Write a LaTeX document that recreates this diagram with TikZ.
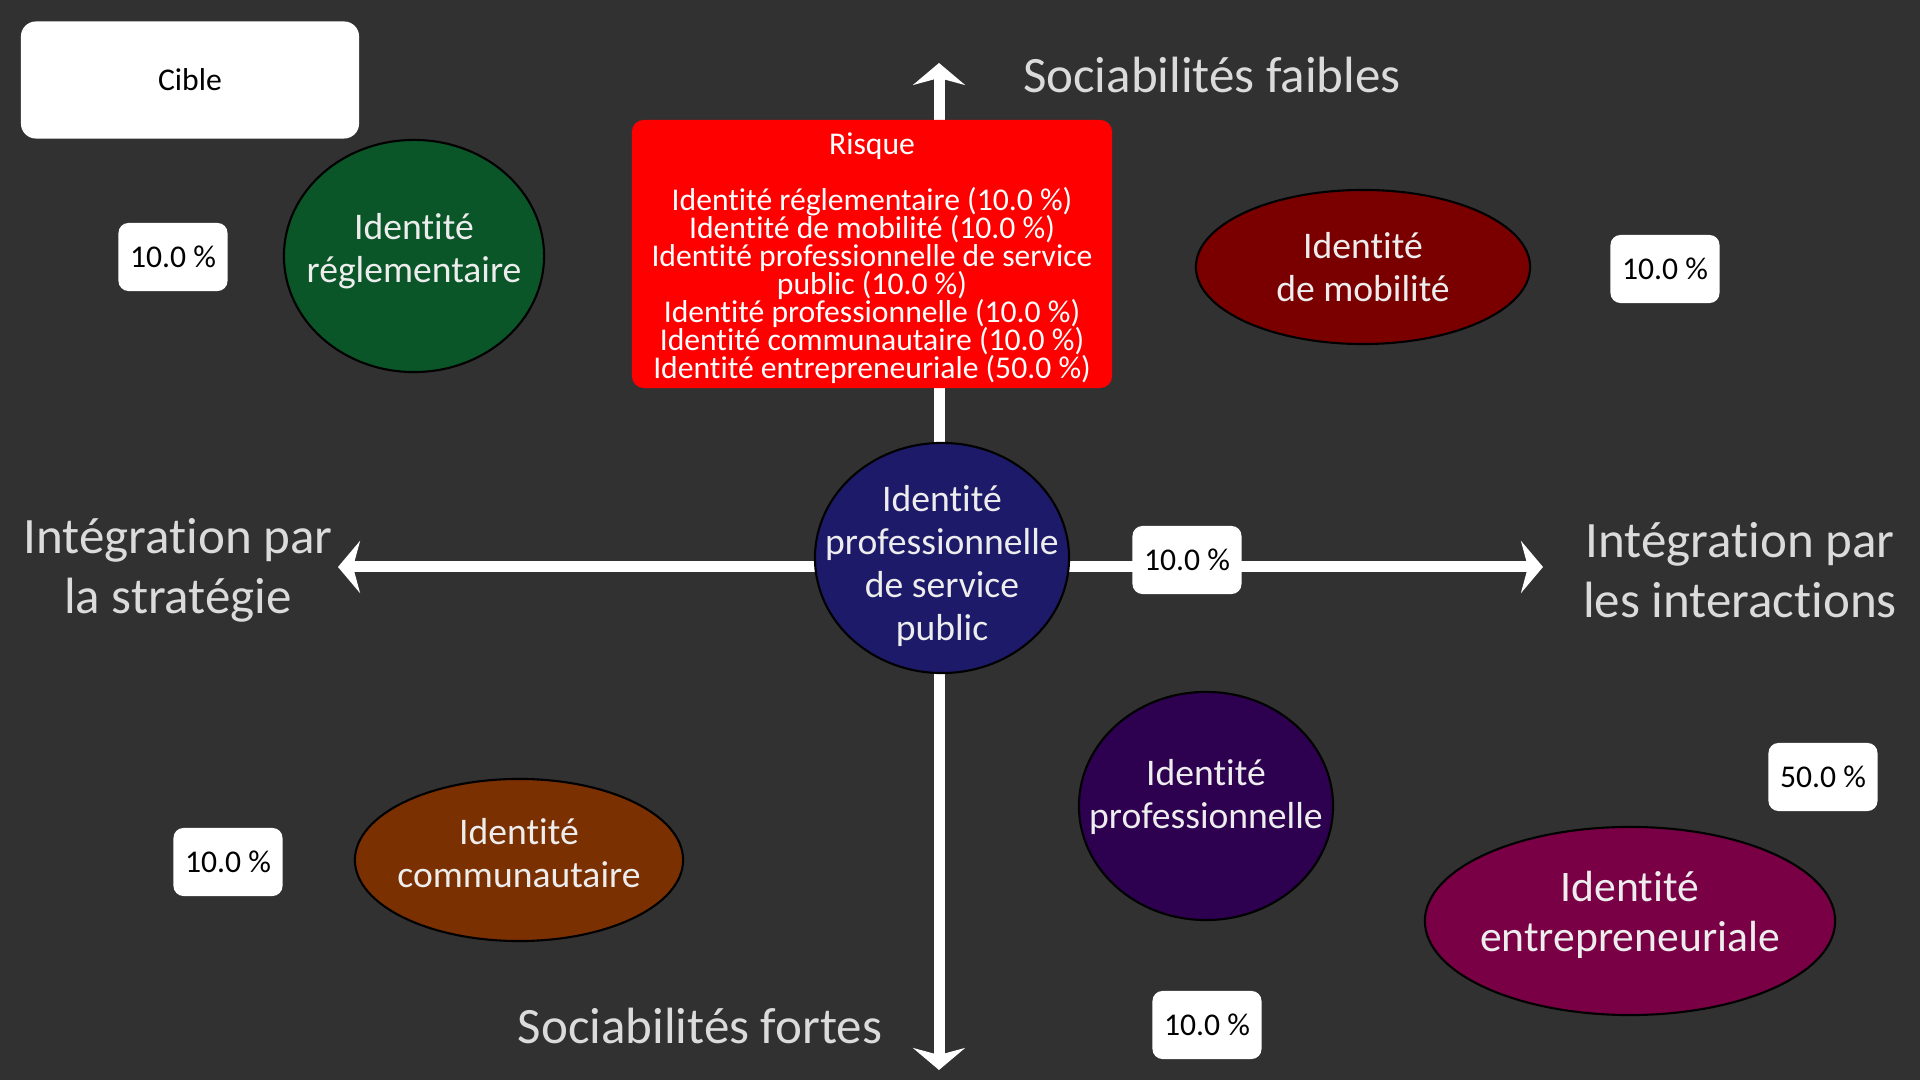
\documentclass[tikz,border=0pt]{standalone}
\usepackage{fontspec}
\setmainfont{Carlito}[Ligatures={NoCommon}, Contextuals={NoAlternate}]
\usepackage{tikz}
\usetikzlibrary{positioning, arrows.meta, shapes.geometric}

\definecolor{fond}{RGB}{50,49,50}
\definecolor{vert}{RGB}{10,86,40}
\definecolor{bordeaux}{RGB}{122,0,0}
\definecolor{marine}{RGB}{30,26,106}
\definecolor{brun}{RGB}{122,48,0}
\definecolor{violet}{RGB}{46,0,80}
\definecolor{prune}{RGB}{122,0,70}
\definecolor{rouge}{RGB}{255,0,0}

\newcommand{\policerisque}{\fontsize{9pt}{7.95pt}\selectfont\setlength{\lineskiplimit}{-10pt}}

\tikzset{
    identite/.style={ellipse, draw=black, line width=0.6pt, inner sep=0pt},
    etiquette/.style={align=center, text=black!7, inner sep=0pt,
        font=\fontsize{10.7pt}{12.2pt}\selectfont},
    pourcent/.style={fill=white, rounded corners=0.1cm, minimum width=1.09cm,
        minimum height=0.68cm, inner sep=0pt, font=\fontsize{9pt}{10pt}\selectfont},
    axe/.style={draw=white, line width=0.11cm,
        {Stealth[length=0.22cm, width=0.52cm, inset=0.07cm]}-{Stealth[length=0.22cm, width=0.52cm, inset=0.07cm]}},
    titre/.style={align=center, text=black!14, font=\fontsize{14.5pt}{17.1pt}\selectfont}
}

\begin{document}
\begin{tikzpicture}[x=0.01cm, y=-0.01cm]
    % Fond
    \fill[fond] (0,0) rectangle (1920,1080);
    \useasboundingbox (0,0) rectangle (1920,1080);

    % Axes
    \coordinate (haut) at (939,63);
    \coordinate (bas) at (939,1070);
    \coordinate (gauche) at (338,567);
    \coordinate (droite) at (1543,567);
    \draw[axe] (haut) -- (bas);
    \draw[axe] (gauche) -- (droite);

    % Cible
    \node[fill=white, rounded corners=0.15cm, minimum width=3.38cm, minimum height=1.17cm,
        font=\fontsize{9pt}{10pt}\selectfont] (cible) at (190,80) {Cible};

    % Risque
    \node[fill=rouge, rounded corners=0.12cm, minimum width=4.8cm, minimum height=2.68cm,
        inner sep=0pt,
        label={[align=center, text=white, inner sep=0pt, yshift=-0.04cm, font=\policerisque]center:{Risque\\[0.28cm]
        Identité réglementaire (10.0~\%)\\
        Identité de mobilité (10.0~\%)\\
        Identité professionnelle de service\\
        public (10.0~\%)\\
        Identité professionnelle (10.0~\%)\\
        Identité communautaire (10.0~\%)\\
        Identité entrepreneuriale (50.0~\%)}}]
        (risque) at (872,254) {};

    % Identites
    \node[identite, fill=vert, minimum width=2.6cm, minimum height=2.32cm,
        label={[etiquette, yshift=0.05cm]center:{Identité\\réglementaire}}] (regl) at (414,256) {};
    \node[identite, fill=bordeaux, minimum width=3.34cm, minimum height=1.54cm,
        label={[etiquette]center:{Identité\\de mobilité}}] (mob) at (1363,267) {};
    \node[identite, fill=marine, minimum width=2.54cm, minimum height=2.3cm,
        label={[etiquette, yshift=-0.08cm]center:{Identité\\professionnelle\\de service\\public}}] (psp) at (942,558) {};
    \node[identite, fill=brun, minimum width=3.28cm, minimum height=1.62cm,
        label={[etiquette, yshift=0.07cm]center:{Identité\\communautaire}}] (comm) at (519,860) {};
    \node[identite, fill=violet, minimum width=2.54cm, minimum height=2.28cm,
        label={[etiquette, yshift=0.09cm]center:{Identité\\professionnelle}}] (prof) at (1206,806) {};
    \node[identite, fill=prune, minimum width=4.1cm, minimum height=1.88cm,
        label={[etiquette, yshift=0.06cm, font=\fontsize{12.4pt}{14.2pt}\selectfont]center:{Identité\\entrepreneuriale}}]
        (entr) at (1630,921) {};

    % Pourcentages
    \foreach \nom/\x/\y/\val in {regl/173/257/10.0, mob/1665/269/10.0, psp/1187/560/10.0,
        comm/228/862/10.0, entr/1823/777/50.0, prof/1207/1025/10.0} {
        \node[pourcent] (pct\nom) at (\x,\y) {\val~\%};
    }

    % Libelles des axes
    \node[titre] (faibles) at (1212,75) {Sociabilités faibles};
    \node[titre] (fortes) at (700,1026) {Sociabilités fortes};
    \node[titre] (strategie) at (178,570) {Intégration par\\la stratégie};
    \node[titre] (interactions) at (1740,570) {Intégration par\\les interactions};
\end{tikzpicture}
\end{document}
